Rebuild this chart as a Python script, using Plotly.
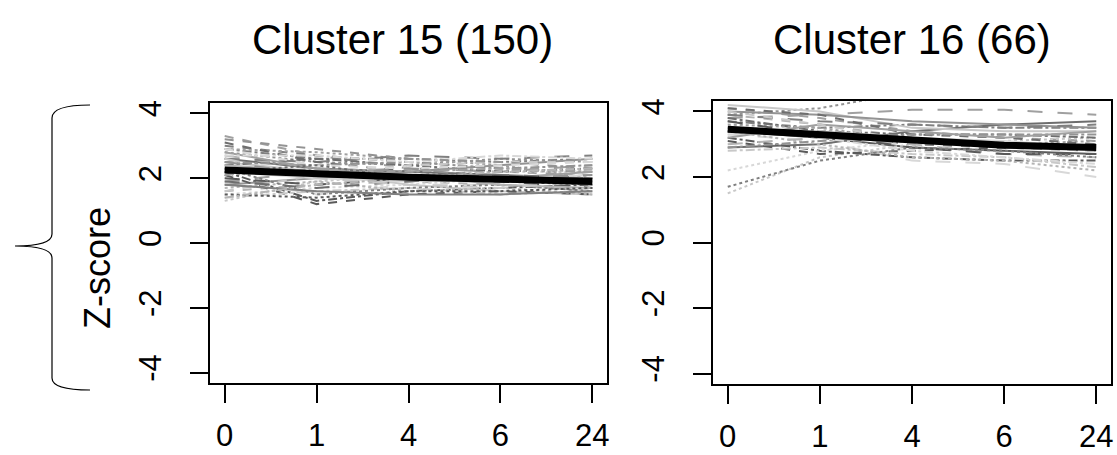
import plotly.graph_objects as go

# Time points (hours) shown as equally spaced categories
time_labels = ["0", "1", "4", "6", "24"]
time_index = [0, 1, 2, 3, 4]
ytick_vals = [-4, -2, 0, 2, 4]
ytick_text = ["-4", "-2", "0", "2", "4"]

# Cluster 15: individual gene profiles (z-scores)
c15_profiles = [
    [2.3, 2.1, 2.0, 1.9, 1.9],
    [3.3, 2.7, 2.3, 2.2, 2.1],
    [1.3, 1.9, 2.1, 2.2, 2.2],
    [2.9, 2.6, 2.6, 2.5, 2.6],
    [2.0, 1.5, 1.8, 1.8, 1.7],
    [2.6, 2.3, 2.2, 2.1, 2.0],
    [1.6, 1.8, 1.9, 1.8, 1.6],
    [2.8, 2.5, 2.4, 2.6, 2.5],
    [2.2, 1.3, 1.6, 1.7, 1.8],
    [1.9, 2.2, 2.3, 2.2, 2.4],
    [2.5, 2.2, 1.8, 1.6, 1.5],
    [3.0, 2.7, 2.5, 2.3, 2.2],
    [1.5, 1.7, 1.8, 2.0, 2.1],
    [2.4, 2.6, 2.4, 2.2, 2.3],
    [2.7, 2.3, 2.0, 2.1, 1.9],
    [1.8, 2.0, 2.2, 2.4, 2.6],
    [2.1, 1.2, 1.5, 1.6, 1.5],
    [2.9, 2.8, 2.6, 2.4, 2.0],
    [1.4, 1.6, 1.7, 1.5, 1.6],
    [2.6, 2.5, 2.7, 2.6, 2.7],
    [2.2, 2.0, 1.9, 2.0, 2.1],
    [3.1, 2.5, 2.2, 2.1, 1.8],
    [1.7, 1.9, 1.6, 1.7, 1.5],
    [2.5, 2.4, 2.5, 2.3, 2.4],
    [2.0, 1.8, 2.0, 1.9, 1.7],
    [2.8, 2.3, 2.1, 2.0, 2.2],
    [1.6, 2.1, 2.4, 2.5, 2.5],
    [2.3, 1.5, 1.7, 1.8, 1.6],
    [2.7, 2.7, 2.5, 2.7, 2.6],
    [1.9, 1.7, 1.9, 2.1, 2.0],
    [2.4, 2.2, 2.1, 1.8, 1.7],
    [3.2, 2.9, 2.6, 2.5, 2.3],
    [1.5, 1.4, 1.6, 1.6, 1.7],
    [2.1, 2.3, 2.2, 2.3, 2.2],
    [2.6, 2.0, 1.8, 1.7, 1.9],
    [1.8, 1.6, 1.5, 1.5, 1.6],
    [2.9, 2.4, 2.3, 2.4, 2.5],
    [2.2, 2.4, 2.0, 1.9, 1.8],
    [1.4, 1.8, 2.0, 2.2, 2.3],
    [2.5, 2.1, 2.3, 2.0, 2.1],
]
c15_mean = [2.25, 2.12, 2.03, 1.97, 1.90]

# Cluster 16: individual gene profiles (z-scores)
c16_profiles = [
    [3.4, 3.2, 2.9, 2.8, 2.7],
    [4.1, 3.8, 3.4, 3.2, 3.1],
    [1.5, 2.6, 3.0, 3.1, 3.2],
    [3.7, 3.5, 3.6, 3.5, 3.5],
    [3.3, 3.1, 2.5, 2.4, 2.0],
    [2.9, 3.0, 3.4, 3.6, 3.7],
    [3.9, 3.6, 3.2, 3.0, 2.9],
    [3.9, 4.1, 4.6, 4.6, 4.5],
    [3.2, 2.8, 2.6, 2.5, 2.5],
    [3.8, 3.9, 4.05, 4.05, 3.9],
    [4.2, 4.0, 3.5, 3.4, 3.4],
    [3.5, 3.3, 3.0, 2.9, 2.8],
    [2.2, 2.8, 3.1, 3.0, 2.9],
    [3.8, 3.4, 3.3, 3.3, 3.2],
    [3.0, 3.2, 3.0, 2.7, 2.6],
    [4.0, 3.9, 3.7, 3.6, 3.5],
    [3.1, 2.7, 2.8, 2.9, 3.0],
    [3.6, 3.5, 3.1, 3.0, 3.1],
    [2.8, 2.9, 2.7, 2.6, 2.3],
    [3.9, 3.7, 3.6, 3.5, 3.6],
    [3.3, 3.4, 3.2, 3.1, 2.9],
    [4.1, 3.9, 3.3, 3.2, 3.0],
    [3.4, 3.0, 2.6, 2.5, 2.2],
    [2.9, 3.1, 3.3, 3.3, 3.3],
    [3.7, 3.3, 2.9, 2.7, 2.7],
    [3.2, 3.6, 3.4, 3.2, 3.4],
    [4.0, 3.6, 3.1, 2.9, 2.8],
    [1.7, 2.5, 2.9, 2.8, 2.6],
    [3.5, 3.2, 2.8, 2.6, 2.4],
]
c16_mean = [3.46, 3.28, 3.10, 2.97, 2.90]

panel_titles = ["Cluster 15 (150)", "Cluster 16 (66)"]
ylabel = "Z-score"

# Styling cycles (R matplot-like)
grays = ["#5a5a5a", "#a0a0a0", "#c8c8c8", "#808080", "#d8d8d8", "#6e6e6e", "#b4b4b4", "#939393"]
dashes = ["solid", "dash", "dot", "dashdot", "longdash"]

W, H = 1117, 455
FONT = "Liberation Sans, Arial, sans-serif"


def px_x(x):
    return x / W


def px_y(y):
    return 1 - y / H


fig = go.Figure()

panels = [
    (c15_profiles, c15_mean, "x", "y"),
    (c16_profiles, c16_mean, "x2", "y2"),
]
for profiles, mean, xa, ya in panels:
    for i, prof in enumerate(profiles):
        fig.add_trace(go.Scatter(
            x=time_index, y=prof, mode="lines",
            line=dict(color=grays[i % len(grays)], width=2, dash=dashes[i % len(dashes)]),
            xaxis=xa, yaxis=ya, showlegend=False, hoverinfo="skip",
        ))
    fig.add_trace(go.Scatter(
        x=time_index, y=mean, mode="lines",
        line=dict(color="black", width=7),
        xaxis=xa, yaxis=ya, showlegend=False,
    ))

axis_common = dict(
    showline=True, mirror=True, linecolor="black", linewidth=1.5,
    ticks="outside", ticklen=18, tickwidth=1.5, tickcolor="black",
    showgrid=False, zeroline=False, automargin=False,
    tickfont=dict(family=FONT, size=31, color="black"),
)

fig.update_layout(
    width=W, height=H,
    margin=dict(l=0, r=0, t=0, b=0, autoexpand=False),
    paper_bgcolor="white", plot_bgcolor="white",
    font=dict(family=FONT, color="black"),
    xaxis=dict(domain=[px_x(210), px_x(607)], range=[-0.16, 4.16],
               tickvals=time_index, ticktext=time_labels, anchor="y",
               ticklabelstandoff=6, **axis_common),
    yaxis=dict(domain=[px_y(383), px_y(103)], range=[-4.32, 4.32],
               tickvals=ytick_vals, ticktext=ytick_text, tickangle=-90, anchor="x",
               ticklabelstandoff=17, **axis_common),
    xaxis2=dict(domain=[px_x(713), px_x(1111)], range=[-0.16, 4.16],
                tickvals=time_index, ticktext=time_labels, anchor="y2",
                ticklabelstandoff=6, **axis_common),
    yaxis2=dict(domain=[px_y(384), px_y(101)], range=[-4.32, 4.32],
                tickvals=ytick_vals, ticktext=ytick_text, tickangle=-90, anchor="x2",
                ticklabelstandoff=17, **axis_common),
)

# Panel titles
for title, cx in zip(panel_titles, [402, 912]):
    fig.add_annotation(
        text=title, x=px_x(cx), y=px_y(39), xref="paper", yref="paper",
        xanchor="center", yanchor="middle", showarrow=False,
        font=dict(family=FONT, size=42, color="black"),
    )

# Shared y label
fig.add_annotation(
    text=ylabel, x=px_x(97), y=px_y(268), xref="paper", yref="paper",
    xanchor="center", yanchor="middle", showarrow=False, textangle=-90,
    font=dict(family=FONT, size=36, color="black"),
)

# Curly brace grouping the y label
pts = [(90, 105), (52, 105), (52, 118), (52, 234), (52, 246), (15, 246),
       (52, 246), (52, 258), (52, 378), (52, 390), (90, 390)]
p = [(px_x(a), px_y(b)) for a, b in pts]
path = (f"M {p[0][0]},{p[0][1]} Q {p[1][0]},{p[1][1]} {p[2][0]},{p[2][1]} "
        f"L {p[3][0]},{p[3][1]} Q {p[4][0]},{p[4][1]} {p[5][0]},{p[5][1]} "
        f"Q {p[6][0]},{p[6][1]} {p[7][0]},{p[7][1]} "
        f"L {p[8][0]},{p[8][1]} Q {p[9][0]},{p[9][1]} {p[10][0]},{p[10][1]}")
fig.add_shape(type="path", path=path, xref="paper", yref="paper",
              line=dict(color="black", width=1.2))

fig.write_html("out.html")
